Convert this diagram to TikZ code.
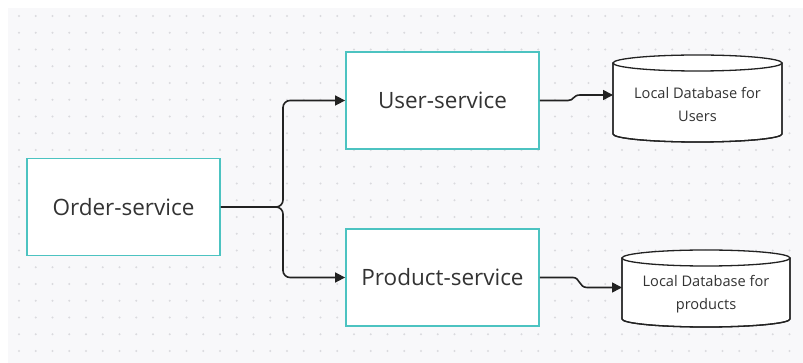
\documentclass[tikz,border=0pt]{standalone}
\usepackage{fontspec}
\setmainfont{Open Sans}
\usetikzlibrary{arrows.meta}
\definecolor{bgc}{HTML}{F8F8FA}
\definecolor{dotc}{HTML}{DADADE}
\definecolor{tealc}{HTML}{4CC3C1}
\definecolor{txtc}{HTML}{333333}
\definecolor{linec}{HTML}{222222}
\tikzset{
  svcbox/.style={draw=tealc, line width=1.8pt, fill=white, minimum width=193pt, minimum height=97pt, inner sep=0pt, text=txtc, font=\fontsize{22.5}{26}\selectfont},
  dbtext/.style={align=center, text=txtc, font=\fontsize{14.6}{23}\selectfont, inner sep=0pt},
  dbshape/.style={draw=linec, line width=1.3pt, fill=white},
  conn/.style={draw=linec, line width=1.6pt, -{Triangle[length=10pt,width=10pt]}},
}
\begin{document}
\begin{tikzpicture}[x=1pt,y=-1pt]
\useasboundingbox (0,0) rectangle (803,363);
\fill[bgc] (8,8) rectangle (803,363);
\foreach \i in {0,...,46}{
  \foreach \j in {0,...,20}{
    \fill[dotc] ({19+16.75*\i},{16+16.75*\j}) circle[radius=1.1pt];
  }
}
% service boxes
\node[svcbox] (order) at (123.5,207) {Order-service};
\node[svcbox] (user) at (442.5,100.5) {User-service};
\node[svcbox] (product) at (442.5,277.5) {Product-service};
% users database cylinder
\path[dbshape] (613,63) -- (613,134) arc[start angle=180, end angle=0, x radius=84.5, y radius=8] -- (782,63) -- cycle;
\draw[draw=linec, line width=1.3pt] (613,63) -- (613,134) arc[start angle=180, end angle=0, x radius=84.5, y radius=8] -- (782,63);
\draw[dbshape] (697.5,63) ellipse[x radius=84.5, y radius=8];
\node[dbtext] (udb) at (697.5,104.5) {Local Database for\\Users};
% products database cylinder
\path[dbshape] (622,258) -- (622,319) arc[start angle=180, end angle=0, x radius=84, y radius=8] -- (790,258) -- cycle;
\draw[draw=linec, line width=1.3pt] (622,258) -- (622,319) arc[start angle=180, end angle=0, x radius=84, y radius=8] -- (790,258);
\draw[dbshape] (706,258) ellipse[x radius=84, y radius=8];
\node[dbtext] (pdb) at (706,294.5) {Local Database for\\products};
% connector endpoints
\coordinate (junc) at (283,207);
\coordinate (udbin) at (613,95);
\coordinate (pdbin) at (622,287.5);
% connectors
\draw[conn, rounded corners=7pt] (order.east) -- (junc) |- (user.west);
\draw[conn, rounded corners=7pt] (order.east) -- (junc) |- (product.west);
\draw[conn] (user.east) -- (568,100.5) .. controls (574,100.5) and (573,95) .. (580,95) -- (udbin);
\draw[conn] (product.east) -- (573,277.5) .. controls (580,277.5) and (579,287.5) .. (587,287.5) -- (pdbin);
\end{tikzpicture}
\end{document}
